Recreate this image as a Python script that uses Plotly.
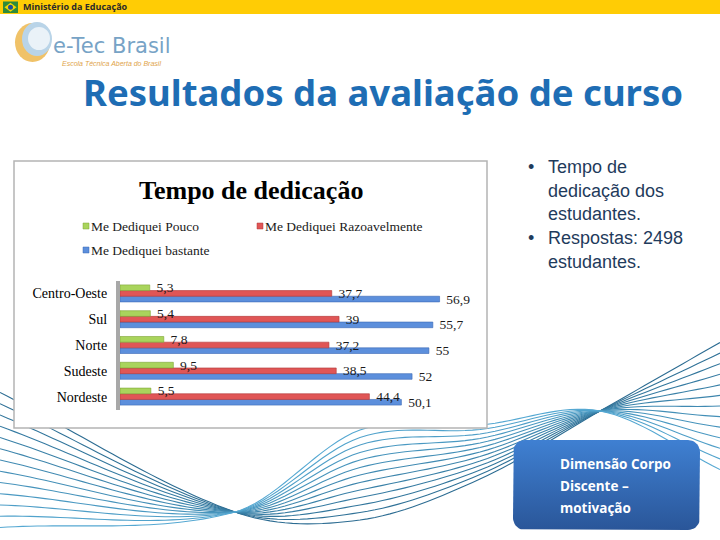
import numpy as np
import plotly.graph_objects as go

# ---------------- data ----------------
categories = ["Nordeste", "Sudeste", "Norte", "Sul", "Centro-Oeste"]
pouco = [5.5, 9.5, 7.8, 5.4, 5.3]
razoavel = [44.4, 38.5, 37.2, 39, 37.7]
bastante = [50.1, 52, 55, 55.7, 56.9]
series_names = ["Me Dediquei Pouco", "Me Dediquei Razoavelmente", "Me Dediquei bastante"]
bullets = [["Tempo de", "dedicação dos", "estudantes."], ["Respostas: 2498", "estudantes."]]
box_lines = ["Dimensão Corpo", "Discente –", "motivação"]

W, H = 720, 540
def X(x): return x / W
def Y(y): return 1 - y / H

def fmt(v):
    return "\u2002" + (f"{v:g}").replace(".", ",")

GREEN, RED, BLUE = "#A9D45C", "#E05656", "#5C8FDC"

fig = go.Figure()
# bars: first trace is drawn lowest in each group
for vals, name, col, edge in [(bastante, series_names[2], BLUE, "#3A68B5"),
                              (razoavel, series_names[1], RED, "#B03838"),
                              (pouco, series_names[0], GREEN, "#7DA534")]:
    fig.add_trace(go.Bar(
        y=categories, x=vals, name=name, orientation="h",
        marker=dict(color=col, line=dict(color=edge, width=0.6)),
        text=[fmt(v) for v in vals], textposition="outside",
        textfont=dict(family="Liberation Serif", size=13.5, color="#1a1a1a"),
        constraintext="none", cliponaxis=False, showlegend=False,
        xaxis="x", yaxis="y"))

shapes = []
# top yellow band
shapes.append(dict(type="rect", xref="paper", yref="paper", x0=0, x1=1, y0=Y(14), y1=1,
                   fillcolor="#FFCC05", line=dict(width=0), layer="below"))
# little flag icon
shapes.append(dict(type="rect", xref="paper", yref="paper", x0=X(3), x1=X(18), y0=Y(13), y1=Y(1.5),
                   fillcolor="#2E8B3A", line=dict(width=0), layer="below"))
shapes.append(dict(type="path", xref="paper", yref="paper",
                   path=f"M {X(4.5)},{Y(7.2)} L {X(10.5)},{Y(2.7)} L {X(16.5)},{Y(7.2)} L {X(10.5)},{Y(11.7)} Z",
                   fillcolor="#F5D800", line=dict(width=0), layer="below"))
shapes.append(dict(type="circle", xref="paper", yref="paper", x0=X(8), x1=X(13), y0=Y(9.7), y1=Y(4.7),
                   fillcolor="#1F4F9A", line=dict(width=0), layer="below"))
# logo
shapes.append(dict(type="circle", xref="paper", yref="paper", x0=X(15), x1=X(50), y0=Y(62), y1=Y(23),
                   fillcolor="#F0C268", line=dict(width=0), layer="below"))
shapes.append(dict(type="circle", xref="paper", yref="paper", x0=X(22), x1=X(52), y0=Y(56), y1=Y(22),
                   fillcolor="#B9D4E8", line=dict(width=0), layer="below"))
shapes.append(dict(type="circle", xref="paper", yref="paper", x0=X(28), x1=X(50), y0=Y(50), y1=Y(27),
                   fillcolor="#EAF2F8", line=dict(width=0), layer="below"))

# background waves (decoration)
kx = np.array([0, 235, 360, 480, 600, 720], float)
kc = np.array([460, 512, 475, 452, 411, 406], float)
ka = np.array([67.5, 0, -45, -27, 0, 63.5], float)

def hermite(xs, ys, xq):
    m = np.zeros_like(ys)
    for k in range(len(xs)):
        if k == 0:
            m[k] = (ys[1] - ys[0]) / (xs[1] - xs[0])
        elif k == len(xs) - 1:
            m[k] = (ys[-1] - ys[-2]) / (xs[-1] - xs[-2])
        else:
            m[k] = (ys[k + 1] - ys[k - 1]) / (xs[k + 1] - xs[k - 1])
    out = np.empty_like(xq)
    for j, x in enumerate(xq):
        k = min(np.searchsorted(xs, x, side="right") - 1, len(xs) - 2)
        h = xs[k + 1] - xs[k]
        t = (x - xs[k]) / h
        h00 = 2 * t**3 - 3 * t**2 + 1
        h10 = t**3 - 2 * t**2 + t
        h01 = -2 * t**3 + 3 * t**2
        h11 = t**3 - t**2
        out[j] = h00 * ys[k] + h10 * h * m[k] + h01 * ys[k + 1] + h11 * h * m[k + 1]
    return out

xq = np.linspace(0, 720, 97)
cq = hermite(kx, kc, xq)
aq = hermite(kx, ka, xq)
nlines = 13
for i in range(nlines):
    s = 2 * i / (nlines - 1) - 1
    yq = cq + aq * s
    p = "M " + " L ".join(f"{X(a):.5f},{Y(b):.5f}" for a, b in zip(xq, yq))
    f = i / (nlines - 1)
    r = int(0x2C + f * (0x55 - 0x2C)); g = int(0x6C + f * (0xA8 - 0x6C)); b = int(0x92 + f * (0xD2 - 0x92))
    shapes.append(dict(type="path", xref="paper", yref="paper", path=p,
                       line=dict(color=f"rgb({r},{g},{b})", width=1.1), layer="below"))

# chart image box
shapes.append(dict(type="rect", xref="paper", yref="paper", x0=X(14), x1=X(487), y0=Y(428), y1=Y(161),
                   fillcolor="white", line=dict(color="#B4B4B4", width=1.5), layer="below"))

# legend markers
for (lx, ly, col, edge) in [(83, 226, GREEN, "#7DA534"), (257, 226, RED, "#B03838"), (83, 250, BLUE, "#3A68B5")]:
    shapes.append(dict(type="rect", xref="paper", yref="paper", x0=X(lx), x1=X(lx + 6), y0=Y(ly + 3), y1=Y(ly - 3),
                       fillcolor=col, line=dict(color=edge, width=0.5), layer="below"))

fig.update_layout(shapes=shapes)

# blue rounded box with gradient, on a page-size overlay subplot
bx0, bx1, by0, by1, rr = 513, 700, 440, 530, 12
pts = []
for cx, cy, a0 in [(bx1 - rr, by0 + rr, -90), (bx1 - rr, by1 - rr, 0), (bx0 + rr, by1 - rr, 90), (bx0 + rr, by0 + rr, 180)]:
    for a in np.linspace(a0, a0 + 90, 10):
        pts.append((cx + rr * np.cos(np.radians(a)), cy + rr * np.sin(np.radians(a))))
pts.append(pts[0])
fig.add_trace(go.Scatter(
    x=[p[0] for p in pts], y=[p[1] for p in pts], mode="lines", fill="toself",
    line=dict(width=0, color="#2E5FA6"),
    fillgradient=dict(type="vertical", colorscale=[[0, "#2A5699"], [1, "#3F80D2"]]),
    hoverinfo="skip", showlegend=False, xaxis="x2", yaxis="y2"))

ann = []
ann.append(dict(x=X(21), y=Y(7), xref="paper", yref="paper", text="Ministério da Educação", showarrow=False,
                xanchor="left", yanchor="middle", font=dict(family="Open Sans", size=9, color="#2A2A2A", weight="bold")))
ann.append(dict(x=X(51), y=Y(46), xref="paper", yref="paper", text="e-Tec Brasil", showarrow=False,
                xanchor="left", yanchor="middle", font=dict(family="DejaVu Sans", size=21, color="#77A3C6")))
ann.append(dict(x=X(60), y=Y(64), xref="paper", yref="paper", text="<i>Escola Técnica Aberta do Brasil</i>", showarrow=False,
                xanchor="left", yanchor="middle", font=dict(family="Liberation Sans Narrow, Liberation Sans", size=7, color="#E0A44A")))
ann.append(dict(x=X(383), y=Y(92), xref="paper", yref="paper", text="Resultados da avaliação de curso", showarrow=False,
                xanchor="center", yanchor="middle", font=dict(family="Noto Sans", size=36.5, color="#1E6DB4", weight="bold")))
ann.append(dict(x=X(251), y=Y(190), xref="paper", yref="paper", text="<b>Tempo de dedicação</b>", showarrow=False,
                xanchor="center", yanchor="middle", font=dict(family="Liberation Serif", size=26, color="#000000")))
for (lx, ly, name) in [(89, 226, series_names[0]), (263, 226, series_names[1]), (89, 250, series_names[2])]:
    ann.append(dict(x=X(lx), y=Y(ly), xref="paper", yref="paper", text=name, showarrow=False,
                    xanchor="left", yanchor="middle", font=dict(family="Liberation Serif", size=13.5, color="#1a1a1a")))
ly = 167
for group in bullets:
    ann.append(dict(x=X(531), y=Y(ly), xref="paper", yref="paper", text="•", showarrow=False,
                    xanchor="center", yanchor="middle", font=dict(family="Liberation Sans", size=18, color="#1F3B5C")))
    for line in group:
        ann.append(dict(x=X(546), y=Y(ly), xref="paper", yref="paper", text=line, showarrow=False,
                        xanchor="left", yanchor="middle", font=dict(family="Liberation Sans", size=18, color="#1F3B5C")))
        ly += 23.75
for k, line in enumerate(box_lines):
    ann.append(dict(x=X(558), y=Y(464 + 22 * k), xref="paper", yref="paper", text=line, showarrow=False,
                    xanchor="left", yanchor="middle", font=dict(family="Open Sans", size=13.5, color="white", weight="bold")))

fig.update_layout(
    width=W, height=H, margin=dict(l=0, r=0, t=0, b=0),
    paper_bgcolor="white", plot_bgcolor="rgba(0,0,0,0)",
    barmode="group", bargap=0.34, bargroupgap=0,
    annotations=ann, showlegend=False,
    xaxis=dict(domain=[X(120), X(457)], range=[0, 60], visible=False, fixedrange=True),
    yaxis=dict(domain=[Y(409.5), Y(280.5)], type="category", categoryorder="array", categoryarray=categories,
               showline=True, linecolor="#A8A8A8", linewidth=4, ticks="", showgrid=False, zeroline=False,
               ticklabelstandoff=6, tickfont=dict(family="Liberation Serif", size=14, color="#000000"),
               anchor="x"),
    xaxis2=dict(domain=[0, 1], range=[0, W], visible=False, anchor="y2"),
    yaxis2=dict(domain=[0, 1], range=[H, 0], visible=False, anchor="x2"),
)
fig.write_html("out.html", config={"displayModeBar": False},
               post_script="document.body.style.margin='0';document.body.style.padding='0';"
                           "document.documentElement.style.overflow='hidden';")
